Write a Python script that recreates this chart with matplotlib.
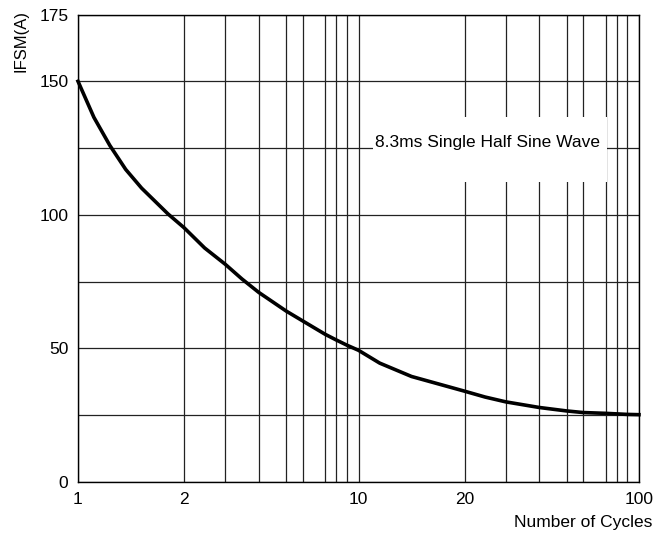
import numpy as np
import matplotlib
matplotlib.use("Agg")
import matplotlib.pyplot as plt
from matplotlib.patches import Rectangle

plt.rcParams["font.family"] = ["Liberation Sans", "DejaVu Sans"]

# curve
cycles = [1, 1.15, 1.3, 1.45, 1.6, 1.85, 2, 2.5, 3, 3.5, 4, 5, 6, 7, 8, 9, 10,
          12, 15, 20, 25, 30, 40, 50, 60, 70, 80, 90, 100]
ifsm = [150, 136.5, 126, 117, 110, 100.3, 95.2, 87.6, 81.5, 76, 71, 64, 60.3, 55.3, 53.2, 51.2,
        49.3, 44.5, 39.5, 34, 31.8, 30, 27.9, 26.6, 26, 25.7, 25.5, 25.3, 25.2]

x_ticks = [1, 2, 10, 20, 100]
x_grid = [3, 4, 5, 6, 7, 8, 9, 30, 40, 50, 60, 70, 80, 90]
y_ticks = [0, 50, 100, 150, 175]
y_grid = [25, 75, 125]
note = "8.3ms Single Half Sine Wave"

# the printed log grid is hand drawn: where each multiplier sits inside a decade
MULT = [1, 2, 3, 4, 5, 6, 7, 8, 9, 10]
FRAC = [0, 0.378, 0.525, 0.644, 0.742, 0.801, 0.881, 0.920, 0.959, 1.0]


def fwd(x):
    lg = np.log10(np.clip(np.asarray(x, float), 1e-9, None))
    d = np.floor(lg)
    return d + np.interp(10 ** (lg - d), MULT, FRAC)


def inv(y):
    y = np.asarray(y, float)
    d = np.floor(y)
    return np.interp(y - d, FRAC, MULT) * 10 ** d


fig = plt.figure(figsize=(6.68, 5.37), dpi=100)
ax = fig.add_axes([78 / 668, 1 - 482 / 537, (639 - 78) / 668, (482 - 14.5) / 537])
ax.set_xscale("function", functions=(fwd, inv))
ax.set_xlim(1, 100)
ax.set_ylim(0, 175)

ax.set_xticks(x_ticks)
ax.set_xticklabels([str(t) for t in x_ticks])
ax.set_xticks(x_grid, minor=True)
ax.set_xticklabels([], minor=True)
ax.set_yticks(y_ticks)
ax.set_yticks(y_grid, minor=True)
ax.tick_params(which="both", length=0, labelsize=12.5, colors="black")
ax.tick_params(axis="x", pad=7)
ax.tick_params(axis="y", pad=7)

ax.grid(True, which="both", color="#222222", lw=0.9, zorder=1)
for s in ax.spines.values():
    s.set_color("black")
    s.set_linewidth(1.0)

ax.add_patch(Rectangle((0.526, 0.642), 0.417, 0.139, transform=ax.transAxes,
                       facecolor="white", edgecolor="none", zorder=2))
ax.text(25.5, 127, note, ha="center", va="center", fontsize=12.5, zorder=3)

ax.plot(cycles, ifsm, color="black", lw=2.6, zorder=4, clip_on=False,
        solid_joinstyle="round")

fig.text(21 / 668, 1 - 41 / 537, "IFSM(A)", rotation=90, ha="center", va="center",
         fontsize=12)
fig.text(652 / 668, 1 - 523 / 537, "Number of Cycles", ha="right", va="center",
         fontsize=12.5)

fig.savefig("out.png", dpi=100)
